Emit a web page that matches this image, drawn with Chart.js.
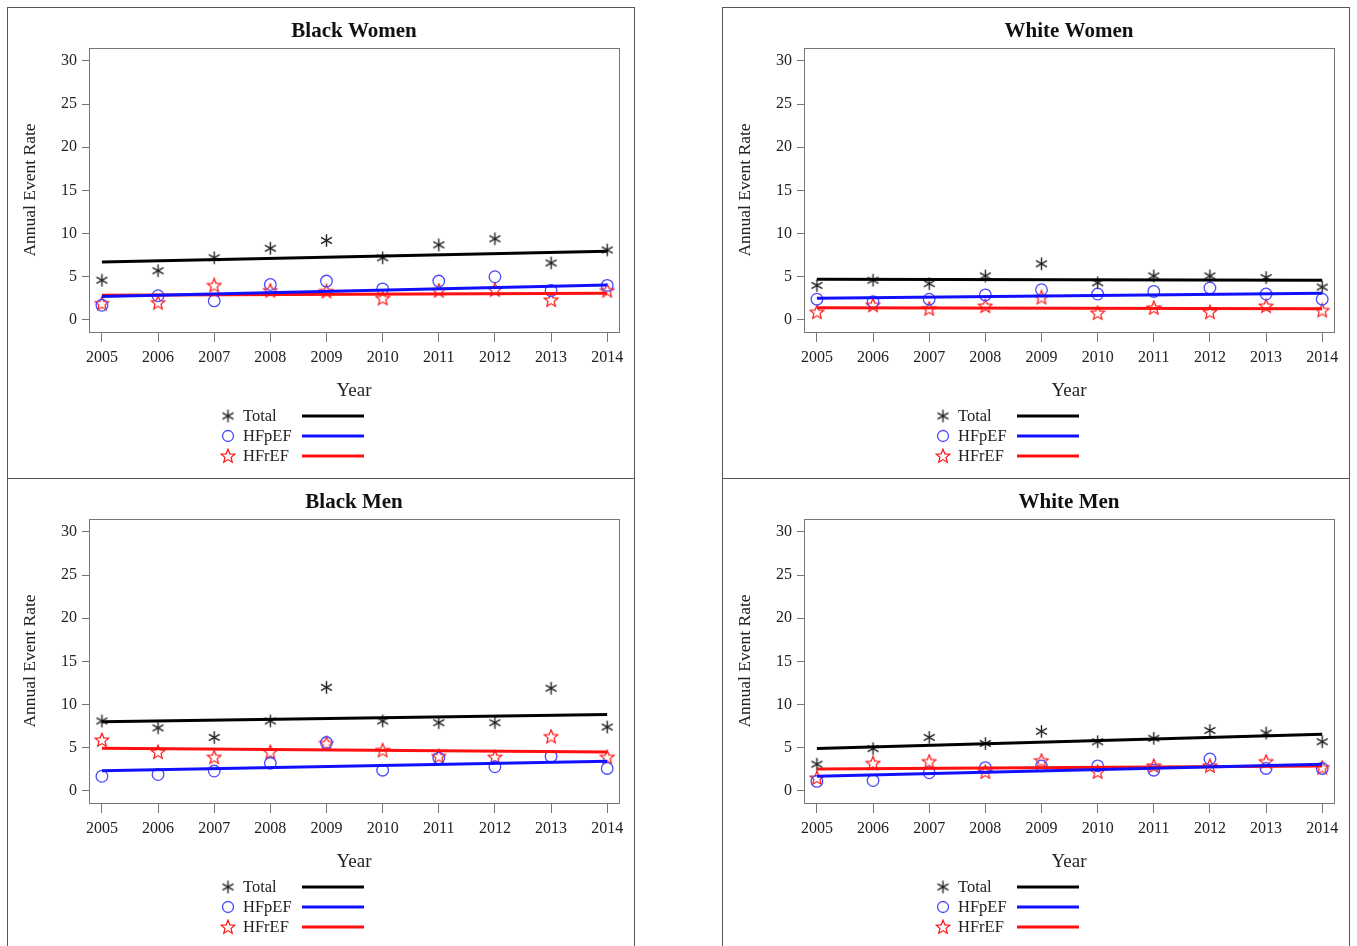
<!DOCTYPE html>
<html>
<head>
<meta charset="utf-8">
<script src="https://cdn.jsdelivr.net/npm/chart.js@4.4.1/dist/chart.umd.min.js"></script>
<style>
body { margin: 0; background: #fff; width: 1357px; height: 946px; overflow: hidden; position: relative; }
.panel { position: absolute; box-sizing: border-box; width: 628px; height: 472px; border: 1px solid #555; background: #fff; }
.panel canvas { display: block; }
</style>
</head>
<body>
<div class="panel" style="left:7px;top:7px"><canvas id="bw" width="626" height="470"></canvas></div>
<div class="panel" style="left:722px;top:7px"><canvas id="ww" width="626" height="470"></canvas></div>
<div class="panel" style="left:7px;top:478px"><canvas id="bm" width="626" height="470"></canvas></div>
<div class="panel" style="left:722px;top:478px"><canvas id="wm" width="626" height="470"></canvas></div>
<script>
// data
const years = [2005, 2006, 2007, 2008, 2009, 2010, 2011, 2012, 2013, 2014];
const yTicks = [0, 5, 10, 15, 20, 25, 30];
const fitYears = [2005, 2014];

const bwTotal = [4.6, 5.7, 7.2, 8.3, 9.2, 7.2, 8.7, 9.4, 6.6, 8.1];
const bwHfpef = [1.7, 2.8, 2.2, 4.1, 4.5, 3.6, 4.5, 5.0, 3.4, 4.0];
const bwHfref = [1.9, 2.0, 4.0, 3.4, 3.3, 2.5, 3.4, 3.5, 2.3, 3.4];
const bwTotalFit = [6.7, 7.95];
const bwHfpefFit = [2.7, 4.05];
const bwHfrefFit = [2.85, 3.1];

const wwTotal = [4.0, 4.6, 4.2, 5.1, 6.5, 4.3, 5.1, 5.1, 4.9, 3.8];
const wwHfpef = [2.4, 2.1, 2.4, 2.9, 3.5, 3.0, 3.3, 3.7, 3.0, 2.4];
const wwHfref = [0.9, 1.7, 1.3, 1.6, 2.6, 0.8, 1.4, 0.9, 1.6, 1.1];
const wwTotalFit = [4.7, 4.6];
const wwHfpefFit = [2.5, 3.1];
const wwHfrefFit = [1.4, 1.3];

const bmTotal = [8.1, 7.3, 6.2, 8.1, 12.0, 8.1, 7.9, 7.9, 11.9, 7.4];
const bmHfpef = [1.7, 1.9, 2.3, 3.2, 5.6, 2.4, 3.8, 2.8, 4.0, 2.6];
const bmHfref = [5.9, 4.5, 3.9, 4.5, 5.5, 4.7, 4.0, 3.9, 6.3, 3.9];
const bmTotalFit = [8.0, 8.85];
const bmHfpefFit = [2.35, 3.45];
const bmHfrefFit = [4.95, 4.5];

const wmTotal = [3.1, 4.9, 6.2, 5.5, 6.9, 5.7, 6.1, 7.0, 6.7, 5.7];
const wmHfpef = [1.1, 1.2, 2.1, 2.7, 2.9, 2.9, 2.4, 3.7, 2.6, 2.6];
const wmHfref = [1.5, 3.2, 3.4, 2.2, 3.5, 2.2, 2.9, 2.9, 3.4, 2.7];
const wmTotalFit = [4.9, 6.55];
const wmHfpefFit = [1.7, 3.1];
const wmHfrefFit = [2.55, 2.9];

const FONT = "'Liberation Serif', 'Times New Roman', serif";
const BLACK = '#000000', BLUE = '#1010ff', RED = '#ff1010';

// marker images
function makeAsterisk() {
    const c = document.createElement('canvas');
    c.width = 15; c.height = 15;
    const g = c.getContext('2d');
    g.strokeStyle = '#222';
    g.lineWidth = 1.4;
    const r = 6.3;
    [90, 30, 150].forEach(a => {
        const rad = a * Math.PI / 180;
        g.beginPath();
        g.moveTo(7.5 + r * Math.cos(rad), 7.5 - r * Math.sin(rad));
        g.lineTo(7.5 - r * Math.cos(rad), 7.5 + r * Math.sin(rad));
        g.stroke();
    });
    return c;
}

function makeStar() {
    const c = document.createElement('canvas');
    c.width = 16; c.height = 16;
    const g = c.getContext('2d');
    g.strokeStyle = RED;
    g.lineWidth = 1.2;
    g.beginPath();
    for (let i = 0; i < 10; i++) {
        const r = i % 2 === 0 ? 7.2 : 3.2;
        const a = -Math.PI / 2 + i * Math.PI / 5;
        const x = 8 + r * Math.cos(a), y = 8.4 + r * Math.sin(a);
        if (i === 0) g.moveTo(x, y); else g.lineTo(x, y);
    }
    g.closePath();
    g.stroke();
    return c;
}

const asterisk = makeAsterisk();
const star = makeStar();

const toPoints = (xs, ys) => xs.map((x, i) => ({ x: x, y: ys[i] }));

// frame round the plot area
const framePlugin = {
    id: 'frame',
    afterDraw(chart) {
        const { ctx, chartArea: a } = chart;
        ctx.save();
        ctx.strokeStyle = '#777';
        ctx.lineWidth = 1;
        ctx.strokeRect(a.left + 0.5, a.top + 0.5, a.right - a.left, a.bottom - a.top);
        ctx.restore();
    }
};

// legend: symbol, label, line sample
const legendPlugin = {
    id: 'symLegend',
    afterDraw(chart) {
        const ctx = chart.ctx;
        const rows = [
            { label: 'Total', img: asterisk, color: BLACK },
            { label: 'HFpEF', img: null, color: BLUE },
            { label: 'HFrEF', img: star, color: RED }
        ];
        ctx.save();
        ctx.font = '16.5px ' + FONT;
        ctx.textBaseline = 'middle';
        ctx.fillStyle = '#222';
        rows.forEach((r, i) => {
            const y = 408 + i * 20;
            if (r.img) {
                ctx.drawImage(r.img, 220 - r.img.width / 2, y - r.img.height / 2);
            } else {
                ctx.beginPath();
                ctx.strokeStyle = '#4a4aff';
                ctx.lineWidth = 1.3;
                ctx.arc(220, y, 5.5, 0, Math.PI * 2);
                ctx.stroke();
            }
            ctx.fillText(r.label, 235, y + 1);
            ctx.beginPath();
            ctx.strokeStyle = r.color;
            ctx.lineWidth = 3;
            ctx.moveTo(294, y);
            ctx.lineTo(356, y);
            ctx.stroke();
        });
        ctx.restore();
    }
};

function makePanel(id, title, total, hfpef, hfref, totalFit, hfpefFit, hfrefFit) {
    const ctx = document.getElementById(id);
    return new Chart(ctx, {
        type: 'scatter',
        data: {
            datasets: [
                {
                    label: 'Total', data: toPoints(years, total),
                    pointStyle: asterisk, pointRadius: 7, order: 2
                },
                {
                    label: 'HFpEF', data: toPoints(years, hfpef),
                    pointStyle: 'circle', pointRadius: 5.8, borderColor: '#4a4aff',
                    backgroundColor: 'rgba(0,0,0,0)', borderWidth: 1.3, order: 2
                },
                {
                    label: 'HFrEF', data: toPoints(years, hfref),
                    pointStyle: star, pointRadius: 8, order: 2
                },
                {
                    type: 'line', label: 'Total fit', data: toPoints(fitYears, totalFit),
                    borderColor: BLACK, borderWidth: 3, pointRadius: 0, order: 1
                },
                {
                    type: 'line', label: 'HFpEF fit', data: toPoints(fitYears, hfpefFit),
                    borderColor: BLUE, borderWidth: 3, pointRadius: 0, order: 1
                },
                {
                    type: 'line', label: 'HFrEF fit', data: toPoints(fitYears, hfrefFit),
                    borderColor: RED, borderWidth: 3, pointRadius: 0, order: 1
                }
            ]
        },
        options: {
            responsive: false,
            animation: false,
            layout: { padding: { left: 0, right: 15, top: 0, bottom: 74 } },
            plugins: {
                legend: { display: false },
                tooltip: { enabled: false },
                title: {
                    display: true,
                    text: title,
                    fullSize: false,
                    color: '#111',
                    font: { family: FONT, size: 21, weight: 'bold' },
                    padding: { top: 11.4, bottom: 3.4 }
                }
            },
            scales: {
                x: {
                    type: 'linear',
                    min: 2004.77,
                    max: 2014.21,
                    afterBuildTicks: s => { s.ticks = years.map(v => ({ value: v })); },
                    afterFit: s => { s.height = 72; },
                    grid: { drawOnChartArea: false, tickLength: 10, color: '#777' },
                    border: { color: '#777' },
                    ticks: {
                        color: '#222', padding: 6,
                        font: { family: FONT, size: 16 },
                        callback: v => String(v)
                    },
                    title: {
                        display: true, text: 'Year', color: '#222',
                        font: { family: FONT, size: 19 },
                        padding: { top: 0, bottom: 1.8 }
                    }
                },
                y: {
                    min: -1.4,
                    max: 31.5,
                    afterBuildTicks: s => { s.ticks = yTicks.map(v => ({ value: v })); },
                    afterFit: s => { s.width = 81; },
                    grid: { drawOnChartArea: false, tickLength: 7, color: '#777' },
                    border: { color: '#777' },
                    ticks: {
                        color: '#222', padding: 5,
                        font: { family: FONT, size: 16 }
                    },
                    title: {
                        display: true, text: 'Annual Event Rate', color: '#222',
                        font: { family: FONT, size: 17.5 },
                        padding: { top: 11.5, bottom: 0 }
                    }
                }
            }
        },
        plugins: [framePlugin, legendPlugin]
    });
}

makePanel('bw', 'Black Women', bwTotal, bwHfpef, bwHfref, bwTotalFit, bwHfpefFit, bwHfrefFit);
makePanel('ww', 'White Women', wwTotal, wwHfpef, wwHfref, wwTotalFit, wwHfpefFit, wwHfrefFit);
makePanel('bm', 'Black Men', bmTotal, bmHfpef, bmHfref, bmTotalFit, bmHfpefFit, bmHfrefFit);
makePanel('wm', 'White Men', wmTotal, wmHfpef, wmHfref, wmTotalFit, wmHfpefFit, wmHfrefFit);
</script>
</body>
</html>
